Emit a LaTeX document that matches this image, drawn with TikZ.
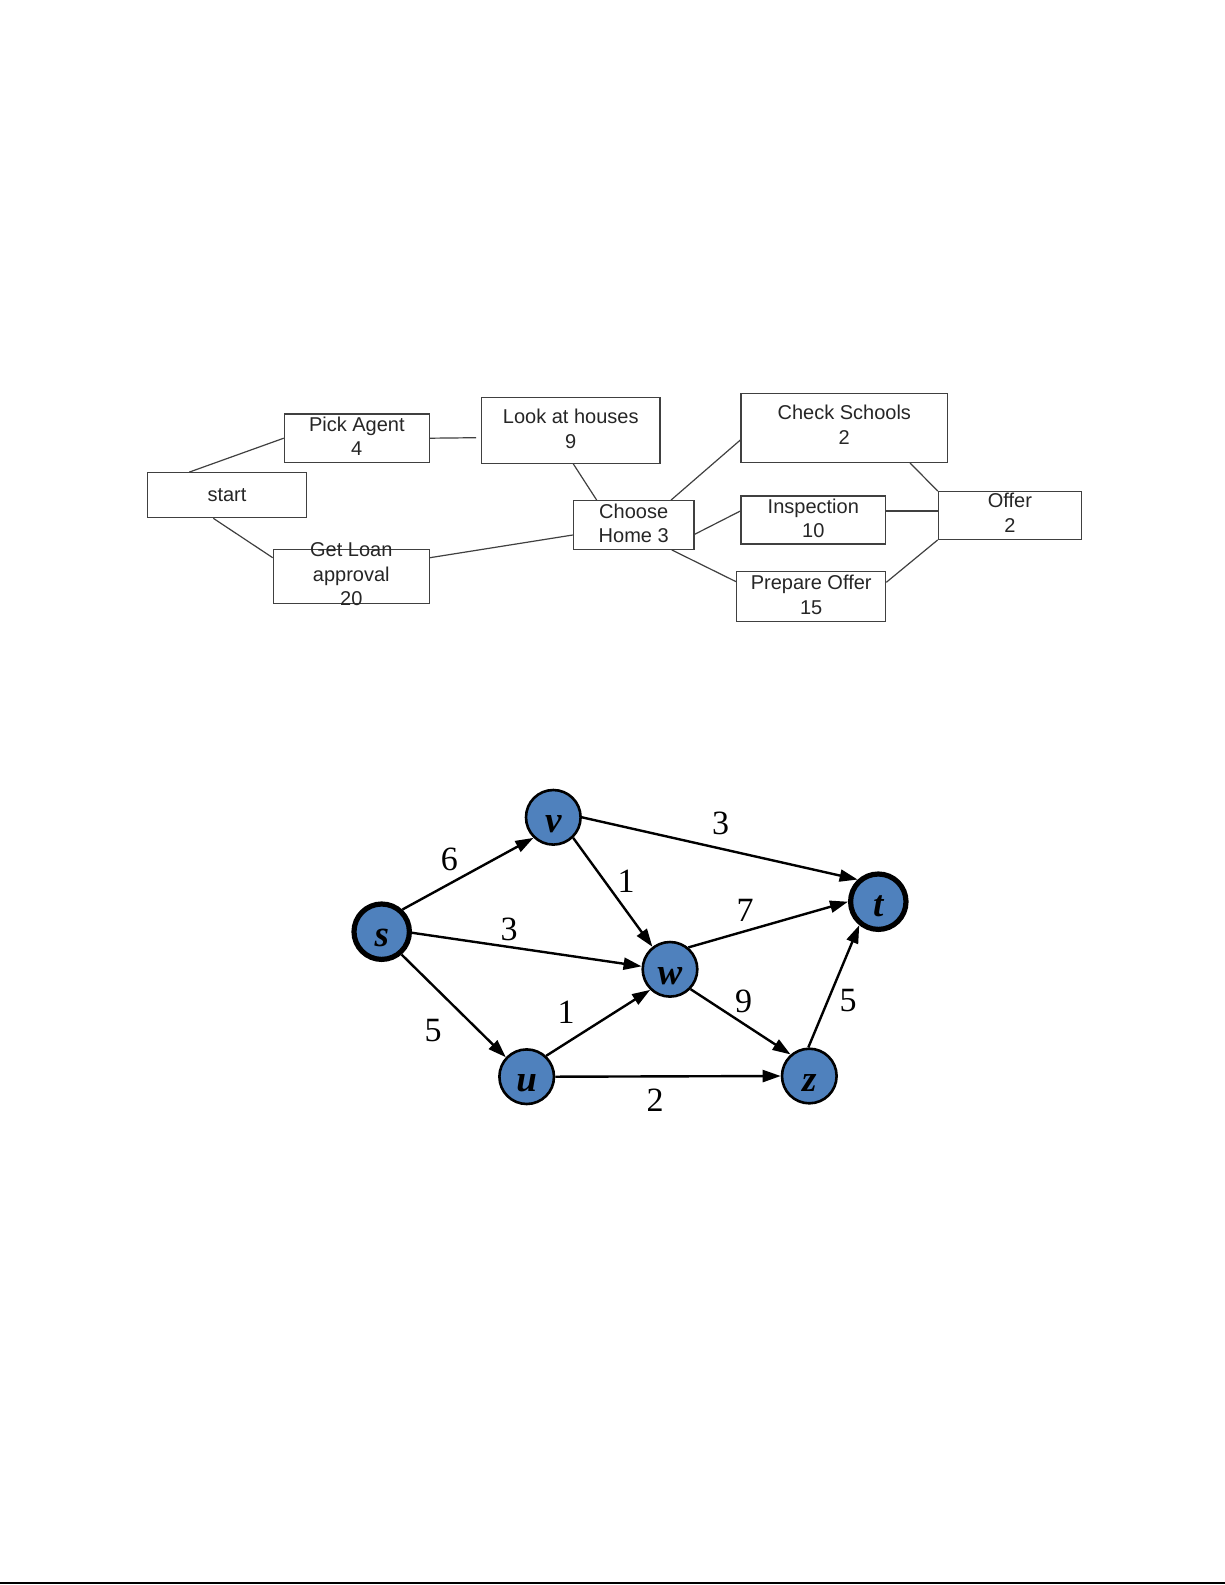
\documentclass[tikz,border=0pt]{standalone}
\usepackage{fontspec}
\setmainfont{Liberation Serif}
\newfontfamily\arialfont{Liberation Sans}
\usetikzlibrary{arrows.meta,calc}
\definecolor{nodeblue}{HTML}{4F81BD}
\definecolor{boxgray}{gray}{0.25}

\begin{document}
\begin{tikzpicture}[x=0.5pt,y=-0.5pt,>={Triangle[length=9pt,width=6pt]},
  task/.style={draw=boxgray,line width=0.6pt,inner sep=0pt,font=\arialfont\fontsize{10}{12.25}\selectfont,text=black!85},
  tasktxt/.style={anchor=north,align=center,inner sep=0pt,font=\arialfont\fontsize{10}{12.25}\selectfont,text=black!85},
  link/.style={boxgray,line width=0.6pt},
  vtx/.style={circle,draw,fill=nodeblue,line width=1.3pt,minimum size=27.3pt,inner sep=0pt,text height=15pt,text depth=0pt,font=\fontsize{18.5}{20}\selectfont\bfseries\itshape},
  term/.style={vtx,line width=2.6pt,minimum size=27.7pt},
  edge/.style={->,line width=1.2pt},
  wt/.style={inner sep=0pt,font=\fontsize{17}{20}\selectfont}]
\fill[white] (0,0) rectangle (1225,1585);
\useasboundingbox (0,0) rectangle (1225,1585);
\node[task,minimum width=79.7pt,minimum height=22.5pt] (start) at (227,495.2) {start};
\node[task,minimum width=72.5pt,minimum height=24.15pt,label={[tasktxt,yshift=-1.55pt]north:{Pick Agent\\4}}] (pick) at (356.8,438.2) {};
\node[task,minimum width=89.15pt,minimum height=32.8pt,label={[tasktxt,yshift=-6pt]north:{Look at houses\\9}}] (look) at (570.8,430.5) {};
\node[task,minimum width=78pt,minimum height=27pt,label={[tasktxt,yshift=3.1pt]north:{Get Loan\\approval\\20}}] (loan) at (351.3,576.3) {};
\node[task,minimum width=60.35pt,minimum height=24.3pt,label={[tasktxt,yshift=-1.5pt]north:{Choose\\Home 3}}] (choose) at (633.7,525) {};
\node[task,minimum width=103.35pt,minimum height=34.5pt,label={[tasktxt,yshift=-6pt]north:{Check Schools\\2}}] (check) at (844.3,427.8) {};
\node[task,minimum width=72.35pt,minimum height=24pt,label={[tasktxt,yshift=-1.5pt]north:{Inspection\\10}}] (insp) at (813.3,520) {};
\node[task,minimum width=74.5pt,minimum height=25pt,label={[tasktxt,yshift=-1.85pt]north:{Prepare Offer\\15}}] (prep) at (811.2,596.7) {};
\node[task,minimum width=71.55pt,minimum height=23.8pt,label={[tasktxt,yshift=-1pt]north:{Offer\\2}}] (offer) at (1009.9,515.5) {};
\draw[link] ($(start.north)+(-37.7,0)$) -- (pick.west);
\draw[link] ($(start.south)+(-13.7,0)$) -- ($(loan.north west)+(0,9)$);
\draw[link] (pick.east) -- ($(look.west)+(-5,7.2)$);
\draw[link] ($(look.south)+(2.5,0)$) -- ($(choose.north)+(-37,0)$);
\draw[link] ($(loan.north east)+(0,9)$) -- ($(choose.west)+(0,10)$);
\draw[link] ($(choose.north)+(37.3,0)$) -- ($(check.west)+(0,12.2)$);
\draw[link] ($(choose.east)+(0,9.3)$) -- ($(insp.west)+(0,-9)$);
\draw[link] ($(choose.south)+(38,0)$) -- ($(prep.north west)+(0,10.6)$);
\draw[link] ($(check.south)+(65.7,0)$) -- (offer.north west);
\draw[link] ($(insp.east)+(0,-9)$) -- ($(offer.west)+(0,-4.5)$);
\draw[link] ($(prep.east)+(0,-14.4)$) -- (offer.south west);
\node[term] (s) at (381.7,931.7) {s};
\node[vtx] (v) at (553.3,817.3) {v};
\node[vtx] (w) at (670,969.3) {w};
\node[term] (t) at (878.3,901.7) {t};
\node[vtx] (u) at (526.7,1076.7) {u};
\node[vtx] (z) at (809.3,1076) {z};
\draw[edge] (s.47) -- (v.226);
\draw[edge] (s.358) -- (w.174);
\draw[edge] (s.311) -- (u.137);
\draw[edge] (v.314) -- (w.128);
\draw[edge] (v.0) -- (t.133);
\draw[edge] (w.50) -- (t.180);
\draw[edge] (w.316) -- (z.131);
\draw[edge] (u.47) -- (w.226);
\draw[edge] (u.0) -- (z.180);
\draw[edge] (z.92) -- (t.231);
\node[wt] (wsv) at (449.3,859) {6};
\node[wt] (wsw) at (509,929) {3};
\node[wt] (wsu) at (433,1030.5) {5};
\node[wt] (wvw) at (626,881.5) {1};
\node[wt] (wvt) at (720.5,823.5) {3};
\node[wt] (wwt) at (745,910) {7};
\node[wt] (wwz) at (743.5,1001) {9};
\node[wt] (wuw) at (566,1012) {1};
\node[wt] (wuz) at (655,1100) {2};
\node[wt] (wzt) at (848,1000.6) {5};
\draw[line width=0.7pt] (0,1583) -- (1225,1583);
\end{tikzpicture}
\end{document}
